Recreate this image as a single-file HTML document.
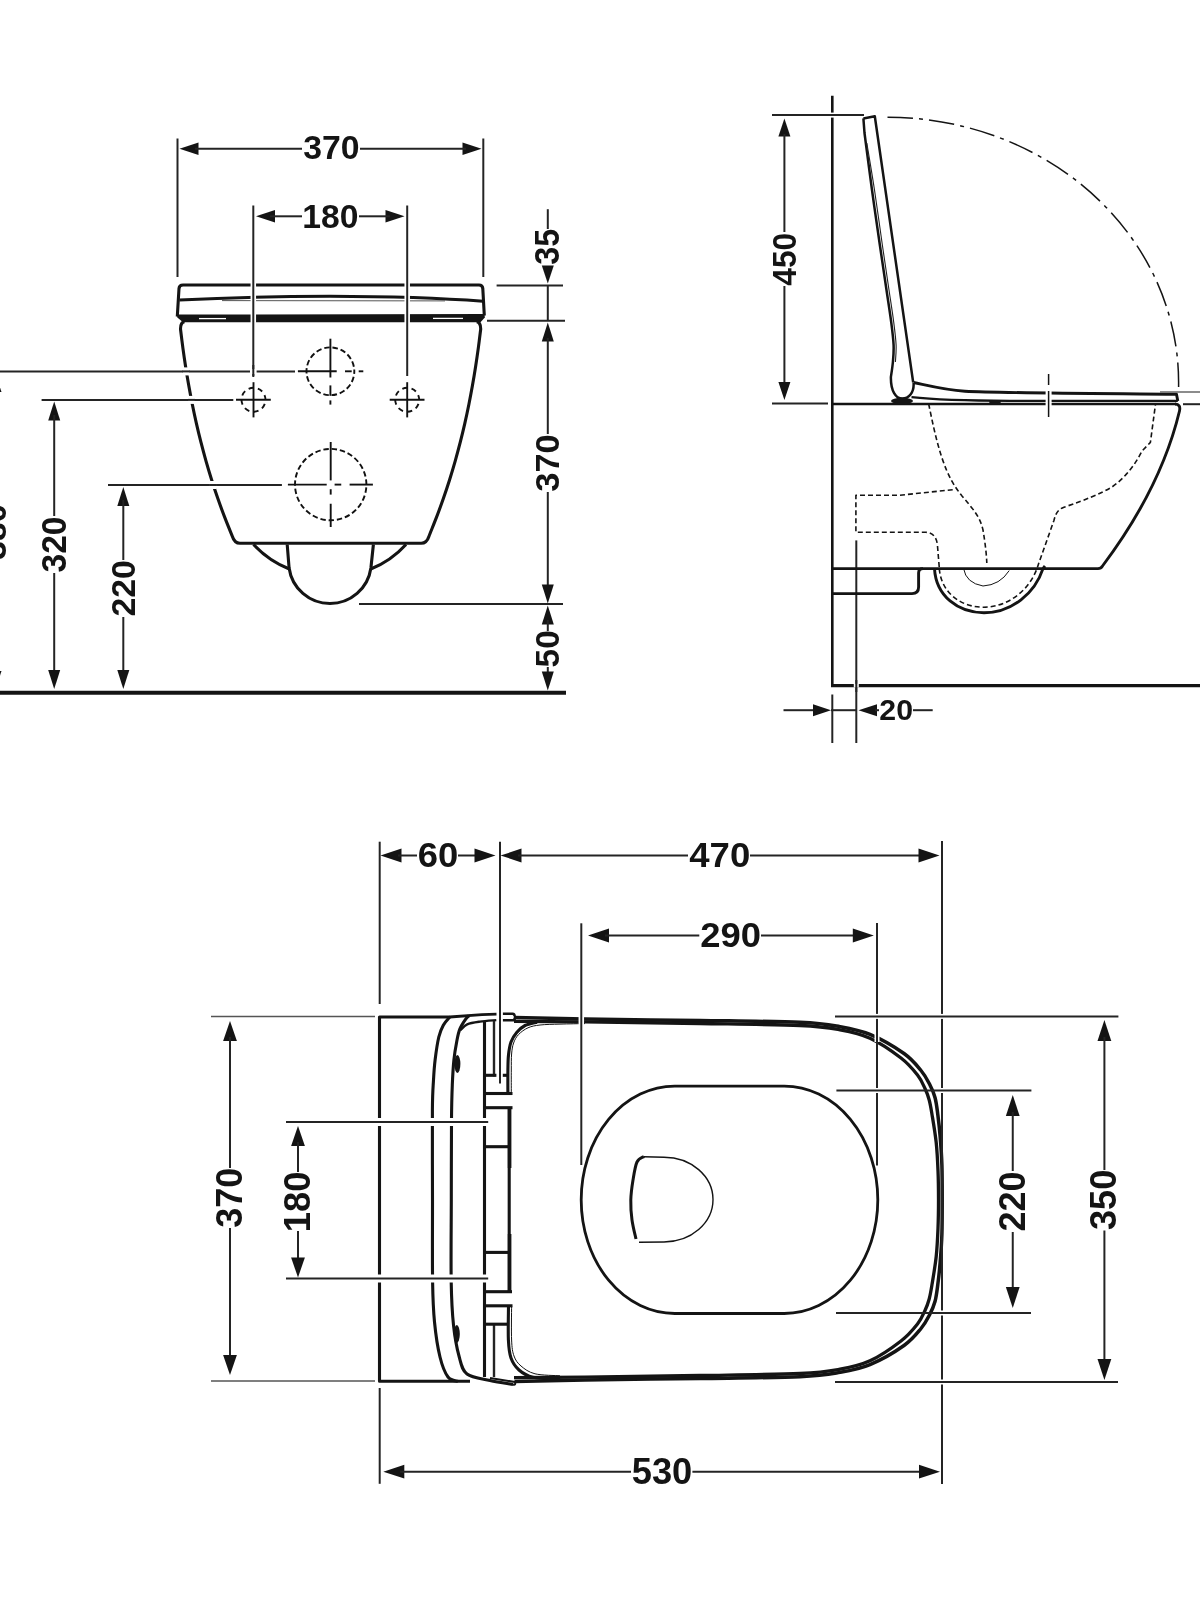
<!DOCTYPE html>
<html><head><meta charset="utf-8"><style>html,body{margin:0;padding:0;background:#fff;}svg{display:block;}</style></head>
<body><svg style="will-change:transform" width="1200" height="1600" viewBox="0 0 1200 1600" stroke-linecap="butt" stroke-linejoin="round">
<rect x="0" y="0" width="1200" height="1600" fill="#fff"/>
<line x1="177.50" y1="138.50" x2="177.50" y2="277.00" stroke="#242424" stroke-width="2.0" />
<line x1="483.30" y1="138.50" x2="483.30" y2="277.00" stroke="#242424" stroke-width="2.0" />
<polygon points="179.50,148.70 198.50,142.40 198.50,155.00" fill="#141414"/>
<polygon points="481.50,148.70 462.50,155.00 462.50,142.40" fill="#141414"/>
<line x1="195.00" y1="148.70" x2="302.00" y2="148.70" stroke="#242424" stroke-width="2.0" />
<line x1="360.00" y1="148.70" x2="466.00" y2="148.70" stroke="#242424" stroke-width="2.0" />
<text transform="translate(303.90,159.70) scale(0.3379,0.3338)" x="-2" y="-1" font-family="&quot;Liberation Sans&quot;, sans-serif" font-weight="bold" font-size="100" fill="#141414">370</text>
<polygon points="256.00,216.30 275.00,210.00 275.00,222.60" fill="#141414"/>
<polygon points="404.50,216.30 385.50,222.60 385.50,210.00" fill="#141414"/>
<line x1="270.00" y1="216.30" x2="302.00" y2="216.30" stroke="#242424" stroke-width="2.0" />
<line x1="359.00" y1="216.30" x2="390.00" y2="216.30" stroke="#242424" stroke-width="2.0" />
<text transform="translate(304.30,228.10) scale(0.3369,0.3394)" x="-6" y="-1" font-family="&quot;Liberation Sans&quot;, sans-serif" font-weight="bold" font-size="100" fill="#141414">180</text>
<line x1="547.80" y1="209.20" x2="547.80" y2="229.00" stroke="#242424" stroke-width="2.0" />
<polygon points="547.80,283.50 541.80,265.50 553.80,265.50" fill="#141414"/>
<text transform="translate(559.40,264.00) rotate(-90) scale(0.3226,0.3437)" x="-2" y="-1" font-family="&quot;Liberation Sans&quot;, sans-serif" font-weight="bold" font-size="100" fill="#141414">35</text>
<line x1="496.60" y1="285.60" x2="563.00" y2="285.60" stroke="#242424" stroke-width="2.0" />
<line x1="547.80" y1="285.60" x2="547.80" y2="320.70" stroke="#242424" stroke-width="2.0" />
<line x1="487.00" y1="320.70" x2="565.00" y2="320.70" stroke="#242424" stroke-width="2.0" />
<polygon points="547.80,322.50 553.80,341.50 541.80,341.50" fill="#141414"/>
<line x1="547.80" y1="338.00" x2="547.80" y2="434.00" stroke="#242424" stroke-width="2.0" />
<text transform="translate(559.40,491.00) rotate(-90) scale(0.3441,0.3296)" x="-2" y="-1" font-family="&quot;Liberation Sans&quot;, sans-serif" font-weight="bold" font-size="100" fill="#141414">370</text>
<line x1="547.80" y1="492.00" x2="547.80" y2="590.00" stroke="#242424" stroke-width="2.0" />
<polygon points="547.80,603.50 541.80,584.50 553.80,584.50" fill="#141414"/>
<line x1="359.00" y1="604.00" x2="563.00" y2="604.00" stroke="#242424" stroke-width="2.0" />
<polygon points="547.80,605.50 553.80,624.50 541.80,624.50" fill="#141414"/>
<line x1="547.80" y1="620.00" x2="547.80" y2="631.00" stroke="#242424" stroke-width="2.0" />
<text transform="translate(559.40,666.40) rotate(-90) scale(0.3337,0.3296)" x="-3" y="-1" font-family="&quot;Liberation Sans&quot;, sans-serif" font-weight="bold" font-size="100" fill="#141414">50</text>
<line x1="547.80" y1="667.00" x2="547.80" y2="676.00" stroke="#242424" stroke-width="2.0" />
<polygon points="547.80,690.50 541.80,671.50 553.80,671.50" fill="#141414"/>
<line x1="0.00" y1="692.80" x2="566.00" y2="692.80" stroke="#141414" stroke-width="4" />
<line x1="41.60" y1="399.90" x2="233.30" y2="399.90" stroke="#242424" stroke-width="2.0" />
<polygon points="54.20,401.50 60.20,420.50 48.20,420.50" fill="#141414"/>
<line x1="54.20" y1="415.00" x2="54.20" y2="516.00" stroke="#242424" stroke-width="2.0" />
<text transform="translate(66.40,571.80) rotate(-90) scale(0.3354,0.3493)" x="-2" y="-1" font-family="&quot;Liberation Sans&quot;, sans-serif" font-weight="bold" font-size="100" fill="#141414">320</text>
<line x1="54.20" y1="573.00" x2="54.20" y2="674.00" stroke="#242424" stroke-width="2.0" />
<polygon points="54.20,689.00 48.20,670.00 60.20,670.00" fill="#141414"/>
<line x1="108.00" y1="485.00" x2="281.90" y2="485.00" stroke="#242424" stroke-width="2.0" />
<polygon points="123.30,487.00 129.30,506.00 117.30,506.00" fill="#141414"/>
<line x1="123.30" y1="500.00" x2="123.30" y2="560.00" stroke="#242424" stroke-width="2.0" />
<text transform="translate(135.00,615.60) rotate(-90) scale(0.3375,0.3324)" x="-3" y="-1" font-family="&quot;Liberation Sans&quot;, sans-serif" font-weight="bold" font-size="100" fill="#141414">220</text>
<line x1="123.30" y1="617.00" x2="123.30" y2="674.00" stroke="#242424" stroke-width="2.0" />
<polygon points="123.30,689.00 117.30,670.00 129.30,670.00" fill="#141414"/>
<line x1="0.00" y1="371.40" x2="295.00" y2="371.40" stroke="#242424" stroke-width="2.0" />
<polygon points="-5.00,373.00 1.50,392.00 -11.50,392.00" fill="#141414"/>
<polygon points="-5.00,690.00 -11.50,671.00 1.50,671.00" fill="#141414"/>
<line x1="-5.00" y1="380.00" x2="-5.00" y2="680.00" stroke="#242424" stroke-width="2.0" />
<text transform="translate(6.50,559.00) rotate(-90) scale(0.3354,0.3380)" x="-2" y="-1" font-family="&quot;Liberation Sans&quot;, sans-serif" font-weight="bold" font-size="100" fill="#141414">380</text>
<path d="M177.3,316.5 L179,288.5 Q179.3,285 183,285 L479,285 Q482.5,285 482.8,288.5 L484.3,315.5" stroke="#141414" stroke-width="3.1" fill="none" />
<path d="M179.5,300 Q250,296.5 330,296.3 Q420,296.5 483,301.3" stroke="#141414" stroke-width="3.1" fill="none" />
<line x1="222.00" y1="300.60" x2="445.00" y2="300.90" stroke="#555" stroke-width="1.0" />
<polygon points="177,314.6 484.6,314.1 484.8,317.4 480.5,322.3 183,322.3 177.3,317.6" fill="#141414"/>
<line x1="199.00" y1="318.60" x2="226.00" y2="318.60" stroke="#fff" stroke-width="1.3" />
<line x1="433.00" y1="318.40" x2="463.00" y2="318.40" stroke="#fff" stroke-width="1.3" />
<path d="M184.5,321.6 Q180.5,322.3 180.49,329 C180.89,332.14 182.02,341.58 182.87,347.86 C183.73,354.15 184.64,360.44 185.62,366.73 C186.60,373.02 187.64,379.30 188.76,385.59 C189.88,391.88 191.07,398.17 192.34,404.45 C193.61,410.74 194.95,417.03 196.38,423.32 C197.82,429.61 199.33,435.89 200.93,442.18 C202.54,448.47 204.23,454.76 206.02,461.05 C207.81,467.33 209.69,473.62 211.67,479.91 C213.66,486.20 215.74,492.48 217.93,498.77 C220.13,505.06 222.42,511.35 224.84,517.64 C227.25,523.92 231.15,533.36 232.41,536.50 Q234.5,543.3 240,543.3 L421.2,543.3 Q426.7,543.3 428.9,536.5 C430.05,533.36 433.95,523.92 436.36,517.64 C438.78,511.35 441.07,505.06 443.27,498.77 C445.46,492.48 447.54,486.20 449.53,479.91 C451.51,473.62 453.39,467.33 455.18,461.05 C456.97,454.76 458.66,448.47 460.27,442.18 C461.87,435.89 463.38,429.61 464.82,423.32 C466.25,417.03 467.59,410.74 468.86,404.45 C470.13,398.17 471.32,391.88 472.44,385.59 C473.56,379.30 474.60,373.02 475.58,366.73 C476.56,360.44 477.47,354.15 478.33,347.86 C479.18,341.58 480.31,332.14 480.71,329.00 Q480.7,322.3 476.7,321.6" stroke="#141414" stroke-width="3.1" fill="none" />
<path d="M287.2,544.5 L289.1,568 A41.3,41.3 0 0 0 370.9,568 L373.4,544.5" stroke="#141414" stroke-width="3.1" fill="none" />
<path d="M253.5,544.5 Q269,561 289.3,569" stroke="#141414" stroke-width="3.1" fill="none" />
<path d="M406,544.5 Q391,561 370.8,569" stroke="#141414" stroke-width="3.1" fill="none" />
<circle cx="330.4" cy="371.3" r="23.9" fill="none" stroke="#111" stroke-width="1.9" stroke-dasharray="5.5 2.84" stroke-dashoffset="2.75"/>
<circle cx="253.5" cy="399.8" r="12" fill="none" stroke="#111" stroke-width="1.9" stroke-dasharray="5.2 4.2" stroke-dashoffset="5.2"/>
<circle cx="407.2" cy="399.8" r="12" fill="none" stroke="#111" stroke-width="1.9" stroke-dasharray="5.2 4.2" stroke-dashoffset="5.2"/>
<circle cx="330.7" cy="484.6" r="35.7" fill="none" stroke="#111" stroke-width="1.9" stroke-dasharray="5.4 2.9" stroke-dashoffset="5.4"/>
<line x1="330.40" y1="338.70" x2="330.40" y2="377.50" stroke="#111" stroke-width="1.9" />
<line x1="330.40" y1="385.40" x2="330.40" y2="395.80" stroke="#111" stroke-width="1.9" />
<line x1="330.40" y1="400.40" x2="330.40" y2="404.60" stroke="#111" stroke-width="1.9" />
<line x1="297.90" y1="371.30" x2="336.70" y2="371.30" stroke="#111" stroke-width="1.9" />
<line x1="345.00" y1="371.30" x2="351.70" y2="371.30" stroke="#111" stroke-width="1.9" />
<line x1="358.70" y1="371.30" x2="363.30" y2="371.30" stroke="#111" stroke-width="1.9" />
<line x1="253.50" y1="382.20" x2="253.50" y2="417.40" stroke="#111" stroke-width="1.9" />
<line x1="236.00" y1="399.80" x2="270.80" y2="399.80" stroke="#111" stroke-width="1.9" />
<line x1="407.20" y1="382.20" x2="407.20" y2="417.40" stroke="#111" stroke-width="1.9" />
<line x1="389.70" y1="399.80" x2="424.50" y2="399.80" stroke="#111" stroke-width="1.9" />
<line x1="330.70" y1="442.00" x2="330.70" y2="480.40" stroke="#111" stroke-width="1.9" />
<line x1="330.70" y1="489.20" x2="330.70" y2="494.60" stroke="#111" stroke-width="1.9" />
<line x1="330.70" y1="503.75" x2="330.70" y2="527.00" stroke="#111" stroke-width="1.9" />
<line x1="287.90" y1="484.60" x2="326.70" y2="484.60" stroke="#111" stroke-width="1.9" />
<line x1="334.60" y1="484.60" x2="341.25" y2="484.60" stroke="#111" stroke-width="1.9" />
<line x1="349.60" y1="484.60" x2="372.90" y2="484.60" stroke="#111" stroke-width="1.9" />
<line x1="253.30" y1="282.00" x2="253.30" y2="323.50" stroke="#fff" stroke-width="5.5" />
<line x1="253.30" y1="205.50" x2="253.30" y2="376.00" stroke="#242424" stroke-width="2.0" />
<line x1="407.20" y1="282.00" x2="407.20" y2="323.50" stroke="#fff" stroke-width="5.5" />
<line x1="407.20" y1="205.50" x2="407.20" y2="376.00" stroke="#242424" stroke-width="2.0" />
<rect x="183.00" y="367.40" width="6.40" height="8" fill="#fff"/>
<line x1="182.50" y1="371.40" x2="189.90" y2="371.40" stroke="#242424" stroke-width="2.0" />
<rect x="188.20" y="395.90" width="6.40" height="8" fill="#fff"/>
<line x1="187.70" y1="399.90" x2="195.10" y2="399.90" stroke="#242424" stroke-width="2.0" />
<rect x="209.70" y="481.00" width="6.40" height="8" fill="#fff"/>
<line x1="209.20" y1="485.00" x2="216.60" y2="485.00" stroke="#242424" stroke-width="2.0" />
<rect x="250" y="369" width="6.6" height="5" fill="#fff"/>
<line x1="253.30" y1="365.00" x2="253.30" y2="377.00" stroke="#242424" stroke-width="2.0" />
<line x1="832.30" y1="95.80" x2="832.30" y2="686.50" stroke="#141414" stroke-width="2.6" />
<line x1="832.30" y1="112.60" x2="832.30" y2="117.60" stroke="#fff" stroke-width="3.5" />
<line x1="832.30" y1="694.50" x2="832.30" y2="743.00" stroke="#242424" stroke-width="2.0" />
<line x1="831.00" y1="685.60" x2="1200.00" y2="685.60" stroke="#141414" stroke-width="3.2" />
<line x1="856.30" y1="540.40" x2="856.30" y2="743.00" stroke="#242424" stroke-width="2.0" />
<line x1="853.80" y1="685.60" x2="858.80" y2="685.60" stroke="#fff" stroke-width="3.6" />
<line x1="856.30" y1="680.00" x2="856.30" y2="692.00" stroke="#242424" stroke-width="2.0" />
<line x1="772.00" y1="115.10" x2="864.00" y2="115.10" stroke="#242424" stroke-width="2.0" />
<line x1="772.00" y1="403.40" x2="828.00" y2="403.40" stroke="#242424" stroke-width="2.0" />
<polygon points="784.40,118.50 790.40,136.50 778.40,136.50" fill="#141414"/>
<line x1="784.40" y1="134.00" x2="784.40" y2="232.00" stroke="#242424" stroke-width="2.0" />
<text transform="translate(796.00,285.00) rotate(-90) scale(0.3168,0.3239)" x="-2" y="-1" font-family="&quot;Liberation Sans&quot;, sans-serif" font-weight="bold" font-size="100" fill="#141414">450</text>
<line x1="784.40" y1="286.00" x2="784.40" y2="384.00" stroke="#242424" stroke-width="2.0" />
<polygon points="784.40,400.00 778.40,382.00 790.40,382.00" fill="#141414"/>
<line x1="783.50" y1="710.20" x2="815.00" y2="710.20" stroke="#242424" stroke-width="2.0" />
<polygon points="831.00,710.20 813.00,716.20 813.00,704.20" fill="#141414"/>
<line x1="831.00" y1="710.20" x2="856.00" y2="710.20" stroke="#242424" stroke-width="2.0" />
<polygon points="858.50,710.20 877.00,704.20 877.00,716.20" fill="#141414"/>
<line x1="875.00" y1="710.20" x2="879.00" y2="710.20" stroke="#242424" stroke-width="2.0" />
<text transform="translate(880.20,720.70) scale(0.3029,0.2958)" x="-3" y="-1" font-family="&quot;Liberation Sans&quot;, sans-serif" font-weight="bold" font-size="100" fill="#141414">20</text>
<line x1="913.00" y1="710.20" x2="932.70" y2="710.20" stroke="#242424" stroke-width="2.0" />
<path d="M887.5,117.3 A291,265 0 0 1 1178.6,382.3 L1178.6,387" fill="none" stroke="#141414" stroke-width="1.5" stroke-dasharray="25.5 6.1 4 6.1"/>
<line x1="832.30" y1="404.00" x2="1176.00" y2="404.00" stroke="#141414" stroke-width="2.7" />
<line x1="1183.00" y1="404.20" x2="1200.00" y2="404.20" stroke="#242424" stroke-width="2.0" />
<path d="M863.4,118.4 L874.8,116.3 L913.2,382.5" stroke="#141414" stroke-width="2.5" fill="none" />
<path d="M863.4,118.4 L864.5,133 C865.75,142.50 869.42,171.17 872.00,190.00 C874.58,208.83 877.58,229.33 880.00,246.00 C882.42,262.67 884.63,277.33 886.50,290.00 C888.37,302.67 890.02,312.83 891.20,322.00 C892.38,331.17 893.32,338.33 893.60,345.00 C893.88,351.67 893.35,356.67 892.90,362.00 C892.45,367.33 891.23,374.50 890.90,377.00 C890.6,391 896,398.6 902.2,398.6 C908.6,398.6 914.2,393 913.6,383" stroke="#141414" stroke-width="2.5" fill="none" />
<path d="M866.80,143.00 C868.08,150.83 871.88,172.83 874.50,190.00 C877.12,207.17 880.08,229.33 882.50,246.00 C884.92,262.67 887.13,277.33 889.00,290.00 C890.87,302.67 892.52,312.83 893.70,322.00 C894.88,331.17 895.82,338.33 896.10,345.00 C896.38,351.67 895.52,359.17 895.40,362.00" stroke="#222" stroke-width="1.1" fill="none" />
<path d="M913.5,382.5 C930,386 945,390 965,391.3 C1000,393 1100,393.5 1176.5,394.3 L1177.8,401" stroke="#141414" stroke-width="2.9" fill="none" />
<path d="M911.5,397.2 C940,400.5 980,400.8 1010,400.8 L1177.8,400.8" stroke="#141414" stroke-width="2.2" fill="none" />
<line x1="1160.00" y1="392.00" x2="1200.00" y2="392.00" stroke="#666" stroke-width="1.6" />
<ellipse cx="902" cy="401" rx="11" ry="3.2" fill="#141414"/>
<ellipse cx="995" cy="402" rx="6" ry="2" fill="#141414"/>
<rect x="1045.6" y="389.5" width="6" height="17" fill="#fff"/>
<path d="M1048.6,374 L1048.6,417" stroke="#141414" stroke-width="1.5" stroke-dasharray="11 6 26"/>
<path d="M832.3,568.6 L1098,568.6 Q1101,568.6 1102.5,566 Q1161,488 1179.5,411 Q1181,404.2 1175,404" stroke="#141414" stroke-width="2.9" fill="none" />
<path d="M832.3,593.6 L912,593.6 Q918.6,593.6 918.6,587 L918.6,573 Q918.6,568.6 923,568.6" stroke="#141414" stroke-width="2.9" fill="none" />
<path d="M934.5,568.6 C936,596 958,612.8 984,612.8 C1012,612.8 1035,593 1043,568.6" stroke="#141414" stroke-width="2.9" fill="none" />
<path d="M1043,568.6 L1045,566" stroke="#141414" stroke-width="2.9" fill="none" />
<path d="M939.3,568.6 C941,592 960,607.2 983.5,607.2 C1008,607.2 1031,590 1038.5,564 L1054,520.3 C1056,512 1059,509 1064,507.2 C1085,500 1100,494 1112,487 C1125,478 1135,465 1142,451 L1150.4,442.4 L1155.4,404.9" fill="none" stroke="#141414" stroke-width="1.6" stroke-dasharray="5 3"/>
<path d="M963.6,568.6 Q966,583 983,586 Q1000,585 1009.2,570.6" stroke="#141414" stroke-width="1.0" fill="none" />
<path d="M928.7,404 C932,420 936,440 942,458 C948,476 954,486 962,496 C972,508 980,516 983,530 C985.5,545 986.5,555 986.8,563" fill="none" stroke="#141414" stroke-width="1.6" stroke-dasharray="5 3"/>
<path d="M952.7,489.7 L899,495.3 L855.9,495.3 L855.9,532.3 L926,532.3 Q936.5,533 937.5,546 L939.3,568" fill="none" stroke="#141414" stroke-width="1.6" stroke-dasharray="5 3"/>
<path d="M450,1017 L379.5,1017 L379.5,1381.3 L470,1381.3" stroke="#141414" stroke-width="3.1" fill="none" />
<path d="M449.8,1017 L482,1014.6 L496.5,1014.2" stroke="#141414" stroke-width="2.8" fill="none" />
<path d="M502.8,1013.8 L512.5,1013.7 Q514.6,1013.9 514.6,1016 L514.6,1020.3 L502.8,1020.3" stroke="#141414" stroke-width="2.6" fill="none" />
<line x1="503.50" y1="1017.00" x2="514.00" y2="1017.00" stroke="#fff" stroke-width="1.2" />
<path d="M449.80,1017.00 C448.72,1018.37 445.13,1021.87 443.30,1025.20 C441.47,1028.53 440.17,1031.20 438.80,1037.00 C437.43,1042.80 435.98,1052.83 435.10,1060.00 C434.22,1067.17 433.95,1071.67 433.50,1080.00 C433.05,1088.33 432.57,1090.00 432.40,1110.00 C432.23,1130.00 432.47,1171.33 432.50,1200.00 C432.53,1228.67 432.27,1261.67 432.60,1282.00 C432.93,1302.33 433.27,1309.50 434.50,1322.00 C435.73,1334.50 437.75,1347.83 440.00,1357.00 C442.25,1366.17 445.00,1372.92 448.00,1377.00 C451.00,1381.08 456.33,1380.75 458.00,1381.50" stroke="#141414" stroke-width="3.1" fill="none" />
<path d="M469.00,1015.80 C468.55,1016.22 467.82,1016.12 466.30,1018.30 C464.78,1020.48 461.50,1025.00 459.90,1028.90 C458.30,1032.80 457.70,1036.52 456.70,1041.70 C455.70,1046.88 454.63,1052.78 453.90,1060.00 C453.17,1067.22 452.70,1075.00 452.30,1085.00 C451.90,1095.00 451.67,1100.83 451.50,1120.00 C451.33,1139.17 451.35,1173.00 451.30,1200.00 C451.25,1227.00 450.83,1261.17 451.20,1282.00 C451.57,1302.83 452.20,1312.67 453.50,1325.00 C454.80,1337.33 456.75,1347.83 459.00,1356.00 C461.25,1364.17 461.83,1369.92 467.00,1374.00 C472.17,1378.08 482.33,1378.75 490.00,1380.50 C497.67,1382.25 509.17,1383.83 513.00,1384.50" stroke="#141414" stroke-width="3.1" fill="none" />
<path d="M513,1384.5 Q516,1385.5 515,1382 L490,1378" stroke="#141414" stroke-width="2.0" fill="none" />
<path d="M496.30,1020.10 C493.58,1020.35 484.85,1020.90 480.00,1021.60 C475.15,1022.30 470.45,1022.90 467.20,1024.30 C463.95,1025.70 461.62,1029.05 460.50,1030.00" stroke="#141414" stroke-width="2.4" fill="none" />
<ellipse cx="457.4" cy="1064" rx="3" ry="9" fill="#141414"/>
<ellipse cx="456.8" cy="1334" rx="3" ry="9" fill="#141414"/>
<line x1="484.50" y1="1021.00" x2="484.50" y2="1377.00" stroke="#141414" stroke-width="3.1" />
<line x1="494.00" y1="1021.00" x2="494.00" y2="1076.40" stroke="#242424" stroke-width="2.4" />
<line x1="494.00" y1="1323.00" x2="494.00" y2="1377.00" stroke="#242424" stroke-width="2.4" />
<line x1="483.50" y1="1093.50" x2="512.50" y2="1093.50" stroke="#141414" stroke-width="3.1" />
<line x1="483.50" y1="1107.70" x2="512.50" y2="1107.70" stroke="#141414" stroke-width="3.1" />
<line x1="483.50" y1="1146.70" x2="509.00" y2="1146.70" stroke="#141414" stroke-width="3.1" />
<line x1="483.50" y1="1252.40" x2="509.00" y2="1252.40" stroke="#141414" stroke-width="3.1" />
<line x1="483.50" y1="1291.70" x2="512.00" y2="1291.70" stroke="#141414" stroke-width="3.1" />
<line x1="483.50" y1="1305.80" x2="512.50" y2="1305.80" stroke="#141414" stroke-width="3.1" />
<line x1="483.50" y1="1324.20" x2="509.00" y2="1324.20" stroke="#141414" stroke-width="3.1" />
<line x1="483.50" y1="1075.30" x2="496.40" y2="1075.30" stroke="#141414" stroke-width="3.1" />
<line x1="502.80" y1="1075.30" x2="508.50" y2="1075.30" stroke="#141414" stroke-width="3.1" />
<line x1="509.20" y1="1107.00" x2="509.20" y2="1292.50" stroke="#141414" stroke-width="3.1" />
<line x1="509.60" y1="1108.00" x2="509.60" y2="1168.00" stroke="#141414" stroke-width="3.6" />
<line x1="509.60" y1="1234.00" x2="509.60" y2="1292.00" stroke="#141414" stroke-width="3.6" />
<path d="M537.00,1022.20 C535.00,1022.75 528.38,1023.78 525.00,1025.50 C521.62,1027.22 519.03,1029.75 516.70,1032.50 C514.37,1035.25 512.37,1038.25 511.00,1042.00 C509.63,1045.75 509.02,1050.33 508.50,1055.00 C507.98,1059.67 508.00,1063.50 507.90,1070.00 C507.80,1076.50 507.90,1090.00 507.90,1094.00" stroke="#141414" stroke-width="3.1" fill="none" />
<path d="M585.00,1023.60 C580.83,1023.68 567.50,1023.87 560.00,1024.10 C552.50,1024.33 545.33,1024.38 540.00,1025.00 C534.67,1025.62 531.58,1026.20 528.00,1027.80 C524.42,1029.40 520.90,1032.07 518.50,1034.60 C516.10,1037.13 514.75,1039.77 513.60,1043.00 C512.45,1046.23 511.98,1049.50 511.60,1054.00 C511.22,1058.50 511.35,1063.50 511.30,1070.00 C511.25,1076.50 511.30,1089.17 511.30,1093.00" stroke="#141414" stroke-width="1.0" fill="none" />
<path d="M508.50,1305.50 C508.48,1311.25 507.98,1331.25 508.40,1340.00 C508.82,1348.75 509.23,1353.00 511.00,1358.00 C512.77,1363.00 515.33,1366.78 519.00,1370.00 C522.67,1373.22 526.17,1375.72 533.00,1377.30 C539.83,1378.88 555.50,1379.13 560.00,1379.50" stroke="#141414" stroke-width="3.1" fill="none" />
<path d="M511.60,1306.00 C511.60,1311.67 511.20,1331.67 511.60,1340.00 C512.00,1348.33 512.43,1351.67 514.00,1356.00 C515.57,1360.33 517.50,1363.03 521.00,1366.00 C524.50,1368.97 528.50,1372.17 535.00,1373.80 C541.50,1375.43 555.83,1375.47 560.00,1375.80" stroke="#141414" stroke-width="1.0" fill="none" />
<path d="M514.50,1017.60 C526.25,1017.85 554.08,1018.62 585.00,1019.10 C615.92,1019.58 664.17,1019.97 700.00,1020.50 C735.83,1021.03 776.67,1021.28 800.00,1022.30 C823.33,1023.32 828.33,1024.58 840.00,1026.60 C851.67,1028.62 859.33,1029.92 870.00,1034.40 C880.67,1038.88 895.50,1047.48 904.00,1053.50 C912.50,1059.52 916.75,1065.42 921.00,1070.50 C925.25,1075.58 927.17,1079.50 929.50,1084.00 C931.83,1088.50 933.62,1092.43 935.00,1097.50 C936.38,1102.57 936.93,1107.82 937.80,1114.40 C938.67,1120.98 939.52,1128.57 940.20,1137.00 C940.88,1145.43 941.57,1154.58 941.90,1165.00 C942.23,1175.42 942.20,1188.00 942.20,1199.50 C942.20,1211.00 942.23,1223.58 941.90,1234.00 C941.57,1244.42 940.88,1253.57 940.20,1262.00 C939.52,1270.43 938.67,1278.02 937.80,1284.60 C936.93,1291.18 936.38,1296.43 935.00,1301.50 C933.62,1306.57 931.83,1310.50 929.50,1315.00 C927.17,1319.50 925.25,1323.42 921.00,1328.50 C916.75,1333.58 912.50,1339.48 904.00,1345.50 C895.50,1351.52 880.67,1360.12 870.00,1364.60 C859.33,1369.08 851.67,1370.38 840.00,1372.40 C828.33,1374.42 823.33,1375.68 800.00,1376.70 C776.67,1377.72 735.83,1377.97 700.00,1378.50 C664.17,1379.03 615.92,1379.42 585.00,1379.90 C554.08,1380.38 526.25,1381.15 514.50,1381.40" stroke="#141414" stroke-width="3.5" fill="none" />
<path d="M514.00,1021.30 C525.83,1021.40 554.00,1021.53 585.00,1021.90 C616.00,1022.27 664.17,1022.90 700.00,1023.50 C735.83,1024.10 776.67,1024.45 800.00,1025.50 C823.33,1026.55 828.33,1027.68 840.00,1029.80 C851.67,1031.92 859.83,1033.50 870.00,1038.20 C880.17,1042.90 893.08,1051.87 901.00,1058.00 C908.92,1064.13 913.50,1069.92 917.50,1075.00 C921.50,1080.08 923.05,1084.33 925.00,1088.50 C926.95,1092.67 928.03,1095.68 929.20,1100.00 C930.37,1104.32 930.83,1107.32 932.00,1114.40 C933.17,1121.48 935.20,1133.13 936.20,1142.50 C937.20,1151.87 937.62,1161.10 938.00,1170.60 C938.38,1180.10 938.50,1189.87 938.50,1199.50 C938.50,1209.13 938.38,1218.90 938.00,1228.40 C937.62,1237.90 937.20,1247.13 936.20,1256.50 C935.20,1265.87 933.17,1277.52 932.00,1284.60 C930.83,1291.68 930.37,1294.68 929.20,1299.00 C928.03,1303.32 926.95,1306.33 925.00,1310.50 C923.05,1314.67 921.50,1318.92 917.50,1324.00 C913.50,1329.08 908.92,1334.87 901.00,1341.00 C893.08,1347.13 880.17,1356.10 870.00,1360.80 C859.83,1365.50 851.67,1367.08 840.00,1369.20 C828.33,1371.32 823.33,1372.45 800.00,1373.50 C776.67,1374.55 735.83,1374.90 700.00,1375.50 C664.17,1376.10 616.00,1376.73 585.00,1377.10 C554.00,1377.47 525.83,1377.60 514.00,1377.70" stroke="#141414" stroke-width="3.3" fill="none" />
<path d="M674.76,1086.1 L784.24,1086.1 A93.56,113.7 0 0 1 877.8,1199.8 A93.56,113.7 0 0 1 784.24,1313.5 L674.76,1313.5 A93.56,113.7 0 0 1 581.2,1199.8 A93.56,113.7 0 0 1 674.76,1086.1 Z" stroke="#141414" stroke-width="2.8" fill="none" />
<path d="M644.00,1156.50 C642.83,1157.42 638.83,1158.08 637.00,1162.00 C635.17,1165.92 634.03,1173.67 633.00,1180.00 C631.97,1186.33 630.97,1193.33 630.80,1200.00 C630.63,1206.67 631.13,1213.50 632.00,1220.00 C632.87,1226.50 635.33,1235.83 636.00,1239.00" stroke="#141414" stroke-width="3.0" fill="none" />
<path d="M644,1156.8 L664,1157.2 A49,42.4 0 0 1 664,1242 L639,1242.2" stroke="#141414" stroke-width="1.4" fill="none" />
<line x1="500.00" y1="1010.00" x2="500.00" y2="1025.00" stroke="#fff" stroke-width="5" />
<line x1="500.00" y1="841.70" x2="500.00" y2="1083.40" stroke="#242424" stroke-width="2.0" />
<line x1="581.30" y1="1013.00" x2="581.30" y2="1028.00" stroke="#fff" stroke-width="5.5" />
<line x1="581.30" y1="923.30" x2="581.30" y2="1165.00" stroke="#242424" stroke-width="2.0" />
<line x1="877.00" y1="1012.00" x2="877.00" y2="1021.00" stroke="#fff" stroke-width="5" />
<line x1="877.00" y1="1086.00" x2="877.00" y2="1095.00" stroke="#fff" stroke-width="5" />
<line x1="877.00" y1="1030.00" x2="877.00" y2="1042.00" stroke="#fff" stroke-width="5" />
<line x1="877.00" y1="923.00" x2="877.00" y2="1165.50" stroke="#242424" stroke-width="2.0" />
<line x1="872.00" y1="1016.40" x2="882.00" y2="1016.40" stroke="#fff" stroke-width="5" />
<line x1="872.00" y1="1090.50" x2="882.00" y2="1090.50" stroke="#fff" stroke-width="5" />
<line x1="942.00" y1="841.00" x2="942.00" y2="1484.00" stroke="#242424" stroke-width="2.0" />
<line x1="937.00" y1="1016.40" x2="947.00" y2="1016.40" stroke="#fff" stroke-width="5" />
<line x1="937.00" y1="1090.50" x2="947.00" y2="1090.50" stroke="#fff" stroke-width="5" />
<line x1="937.00" y1="1313.00" x2="947.00" y2="1313.00" stroke="#fff" stroke-width="5" />
<line x1="937.00" y1="1382.00" x2="947.00" y2="1382.00" stroke="#fff" stroke-width="5" />
<line x1="379.70" y1="841.70" x2="379.70" y2="1004.00" stroke="#242424" stroke-width="2.0" />
<line x1="379.70" y1="1388.00" x2="379.70" y2="1483.80" stroke="#242424" stroke-width="2.0" />
<line x1="211.00" y1="1016.50" x2="375.00" y2="1016.50" stroke="#555" stroke-width="1.3" />
<line x1="211.00" y1="1381.00" x2="375.00" y2="1381.00" stroke="#555" stroke-width="1.3" />
<line x1="379.50" y1="1118.00" x2="379.50" y2="1126.00" stroke="#fff" stroke-width="5" />
<line x1="379.50" y1="1274.50" x2="379.50" y2="1282.50" stroke="#fff" stroke-width="5" />
<line x1="432.40" y1="1118.00" x2="432.40" y2="1126.00" stroke="#fff" stroke-width="5" />
<line x1="432.60" y1="1274.50" x2="432.60" y2="1282.50" stroke="#fff" stroke-width="5" />
<line x1="451.30" y1="1118.00" x2="451.30" y2="1126.00" stroke="#fff" stroke-width="5" />
<line x1="451.20" y1="1274.50" x2="451.20" y2="1282.50" stroke="#fff" stroke-width="5" />
<line x1="484.50" y1="1118.00" x2="484.50" y2="1126.00" stroke="#fff" stroke-width="5" />
<line x1="484.50" y1="1274.50" x2="484.50" y2="1282.50" stroke="#fff" stroke-width="5" />
<line x1="286.00" y1="1122.00" x2="488.20" y2="1122.00" stroke="#242424" stroke-width="2.0" />
<line x1="286.00" y1="1278.50" x2="488.20" y2="1278.50" stroke="#242424" stroke-width="2.0" />
<line x1="835.00" y1="1016.40" x2="1118.40" y2="1016.40" stroke="#242424" stroke-width="2.0" />
<line x1="836.40" y1="1090.50" x2="1031.40" y2="1090.50" stroke="#242424" stroke-width="2.0" />
<line x1="836.00" y1="1313.00" x2="1031.00" y2="1313.00" stroke="#242424" stroke-width="2.0" />
<line x1="835.00" y1="1382.00" x2="1118.00" y2="1382.00" stroke="#242424" stroke-width="2.0" />
<polygon points="380.50,855.50 401.50,848.60 401.50,862.40" fill="#141414"/>
<line x1="398.00" y1="855.50" x2="417.00" y2="855.50" stroke="#242424" stroke-width="2.0" />
<text transform="translate(419.20,867.50) scale(0.3641,0.3521)" x="-4" y="-1" font-family="&quot;Liberation Sans&quot;, sans-serif" font-weight="bold" font-size="100" fill="#141414">60</text>
<line x1="458.00" y1="855.50" x2="478.00" y2="855.50" stroke="#242424" stroke-width="2.0" />
<polygon points="495.50,855.50 474.50,862.40 474.50,848.60" fill="#141414"/>
<polygon points="500.50,855.50 521.50,848.60 521.50,862.40" fill="#141414"/>
<line x1="518.00" y1="855.50" x2="688.00" y2="855.50" stroke="#242424" stroke-width="2.0" />
<text transform="translate(690.00,867.50) scale(0.3652,0.3521)" x="-2" y="-1" font-family="&quot;Liberation Sans&quot;, sans-serif" font-weight="bold" font-size="100" fill="#141414">470</text>
<line x1="750.00" y1="855.50" x2="922.00" y2="855.50" stroke="#242424" stroke-width="2.0" />
<polygon points="939.50,855.50 918.50,862.40 918.50,848.60" fill="#141414"/>
<polygon points="588.00,935.50 609.00,928.50 609.00,942.50" fill="#141414"/>
<line x1="605.00" y1="935.50" x2="699.30" y2="935.50" stroke="#242424" stroke-width="2.0" />
<text transform="translate(701.30,947.50) scale(0.3638,0.3451)" x="-3" y="-1" font-family="&quot;Liberation Sans&quot;, sans-serif" font-weight="bold" font-size="100" fill="#141414">290</text>
<line x1="761.00" y1="935.50" x2="856.00" y2="935.50" stroke="#242424" stroke-width="2.0" />
<polygon points="873.80,935.50 852.80,942.50 852.80,928.50" fill="#141414"/>
<polygon points="383.30,1471.70 404.30,1464.80 404.30,1478.60" fill="#141414"/>
<line x1="400.00" y1="1471.70" x2="631.00" y2="1471.70" stroke="#242424" stroke-width="2.0" />
<text transform="translate(632.75,1484.40) scale(0.3634,0.3648)" x="-3" y="-1" font-family="&quot;Liberation Sans&quot;, sans-serif" font-weight="bold" font-size="100" fill="#141414">530</text>
<line x1="692.40" y1="1471.70" x2="922.00" y2="1471.70" stroke="#242424" stroke-width="2.0" />
<polygon points="940.00,1471.70 919.00,1478.60 919.00,1464.80" fill="#141414"/>
<polygon points="230.00,1021.00 236.90,1041.00 223.10,1041.00" fill="#141414"/>
<line x1="230.00" y1="1037.00" x2="230.00" y2="1168.00" stroke="#242424" stroke-width="2.0" />
<text transform="translate(242.20,1227.00) rotate(-90) scale(0.3602,0.3690)" x="-2" y="-1" font-family="&quot;Liberation Sans&quot;, sans-serif" font-weight="bold" font-size="100" fill="#141414">370</text>
<line x1="230.00" y1="1228.00" x2="230.00" y2="1358.00" stroke="#242424" stroke-width="2.0" />
<polygon points="230.00,1375.00 223.10,1355.00 236.90,1355.00" fill="#141414"/>
<polygon points="298.00,1126.00 304.90,1146.00 291.10,1146.00" fill="#141414"/>
<line x1="298.00" y1="1142.00" x2="298.00" y2="1172.00" stroke="#242424" stroke-width="2.0" />
<text transform="translate(310.00,1230.00) rotate(-90) scale(0.3631,0.3662)" x="-6" y="-1" font-family="&quot;Liberation Sans&quot;, sans-serif" font-weight="bold" font-size="100" fill="#141414">180</text>
<line x1="298.00" y1="1231.00" x2="298.00" y2="1261.00" stroke="#242424" stroke-width="2.0" />
<polygon points="298.00,1277.50 291.10,1257.50 304.90,1257.50" fill="#141414"/>
<polygon points="1012.75,1095.00 1019.65,1116.00 1005.85,1116.00" fill="#141414"/>
<line x1="1012.75" y1="1112.00" x2="1012.75" y2="1171.00" stroke="#242424" stroke-width="2.0" />
<text transform="translate(1025.00,1230.50) rotate(-90) scale(0.3609,0.3620)" x="-3" y="-1" font-family="&quot;Liberation Sans&quot;, sans-serif" font-weight="bold" font-size="100" fill="#141414">220</text>
<line x1="1012.75" y1="1232.00" x2="1012.75" y2="1291.00" stroke="#242424" stroke-width="2.0" />
<polygon points="1012.75,1308.00 1005.85,1287.00 1019.65,1287.00" fill="#141414"/>
<polygon points="1104.40,1020.00 1111.30,1041.00 1097.50,1041.00" fill="#141414"/>
<line x1="1104.40" y1="1037.00" x2="1104.40" y2="1170.00" stroke="#242424" stroke-width="2.0" />
<text transform="translate(1116.60,1229.30) rotate(-90) scale(0.3621,0.3606)" x="-2" y="-1" font-family="&quot;Liberation Sans&quot;, sans-serif" font-weight="bold" font-size="100" fill="#141414">350</text>
<line x1="1104.40" y1="1230.50" x2="1104.40" y2="1363.00" stroke="#242424" stroke-width="2.0" />
<polygon points="1104.40,1380.00 1097.50,1359.00 1111.30,1359.00" fill="#141414"/>
</svg></body></html>
